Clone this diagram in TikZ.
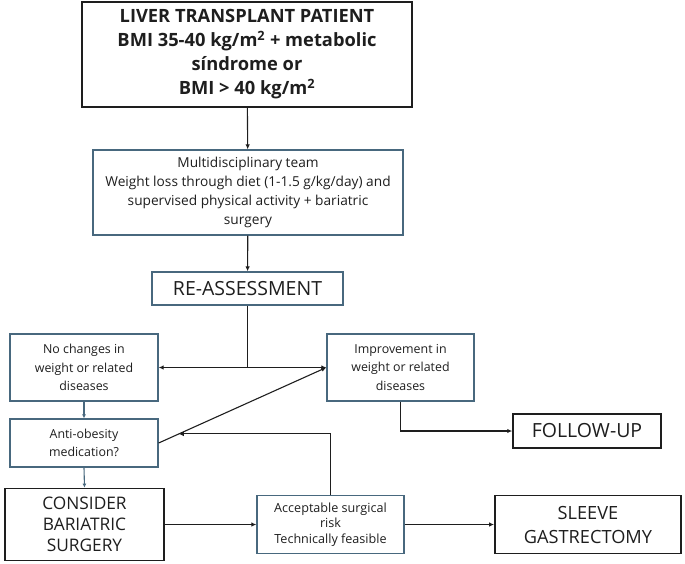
\documentclass[tikz,border=0pt]{standalone}
\usepackage{fontspec}
\setmainfont{Open Sans}
\usetikzlibrary{arrows.meta,calc}
\definecolor{boxblue}{RGB}{72,104,126}
\definecolor{ink}{RGB}{30,30,30}
\tikzset{
	bluebox/.style={draw=boxblue,line width=1.3pt,align=center,text=ink,inner sep=2pt},
	blackbox/.style={draw=ink,line width=1.8pt,align=center,text=ink,inner sep=2pt},
	arr/.style={-{Latex[length=5pt,width=4.5pt]},line width=1.1pt,draw=ink},
	bluearr/.style={-{Latex[length=4pt,width=4pt]},line width=1.1pt,draw=boxblue}
}
\begin{document}
\begin{tikzpicture}[x=1pt,y=-1pt]
		\useasboundingbox (0,0) rectangle (685,563);
		\node [blackbox,minimum width=330,minimum height=105,font=\fontsize{18.3}{24}\selectfont\bfseries] at (247,54.5) (top) {LIVER TRANSPLANT PATIENT\\BMI 35-40 kg/m\textsuperscript{2} + metabolic\\síndrome or\\BMI > 40 kg/m\textsuperscript{2}};
		\node [bluebox,minimum width=310,minimum height=85,font=\fontsize{13.7}{19}\selectfont] at (248,192.5) (team) {Multidisciplinary team\\Weight loss through diet (1-1.5 g/kg/day) and\\supervised physical activity + bariatric\\surgery};
		\node [bluebox,minimum width=191,minimum height=33,font=\fontsize{19.5}{22}\selectfont] at (247.5,288.5) (reass) {RE-ASSESSMENT};
		\node [bluebox,minimum width=148,minimum height=67,font=\fontsize{12.4}{18.5}\selectfont] at (84,367.5) (nochg) {No changes in\\weight or related\\diseases};
		\node [bluebox,minimum width=147,minimum height=67,font=\fontsize{12.4}{18.5}\selectfont] at (400.5,367.5) (impr) {Improvement in\\weight or related\\diseases};
		\node [blackbox,line width=1.5pt,minimum width=148,minimum height=34,font=\fontsize{19.5}{22}\selectfont] at (587,431) (follow) {FOLLOW-UP};
		\node [bluebox,minimum width=148,minimum height=48,font=\fontsize{12.4}{18.5}\selectfont] at (84,443) (anti) {Anti-obesity\\medication?};
		\node [blackbox,minimum width=159,minimum height=72,font=\fontsize{17.3}{21}\selectfont] at (84.5,524.5) (consider) {CONSIDER\\BARIATRIC\\SURGERY};
		\node [bluebox,minimum width=147,minimum height=58,font=\fontsize{12.6}{15.5}\selectfont] at (330.5,524.5) (accept) {Acceptable surgical\\risk\\Technically feasible};
		\node [blackbox,minimum width=186,minimum height=58,font=\fontsize{18.2}{24}\selectfont] at (588,524.5) (sleeve) {SLEEVE\\GASTRECTOMY};
		\coordinate (j) at (reass.south |- nochg.east);
		\coordinate (m) at ($(anti.east)!0.12!(impr.west)$);
		\draw [arr] (top) -- (team);
		\draw [arr] (team) -- (reass);
		\draw [line width=1.1pt,draw=ink] (reass.south) -- (j);
		\draw [arr] (j) -- (nochg.east);
		\draw [arr] (j) -- (impr.west);
		\draw [bluearr] (nochg.south) -- (anti.north);
		\draw [bluearr] (anti.south) -- (consider.north);
		\draw [arr] (anti.east) -- (impr.west);
		\draw [arr] (accept.north) |- (m);
		\draw [arr] (impr.south) |- (follow.west);
		\draw [arr] (consider.east) -- (accept.west);
		\draw [arr] (accept.east) -- (sleeve.west);
	\end{tikzpicture}
\end{document}
